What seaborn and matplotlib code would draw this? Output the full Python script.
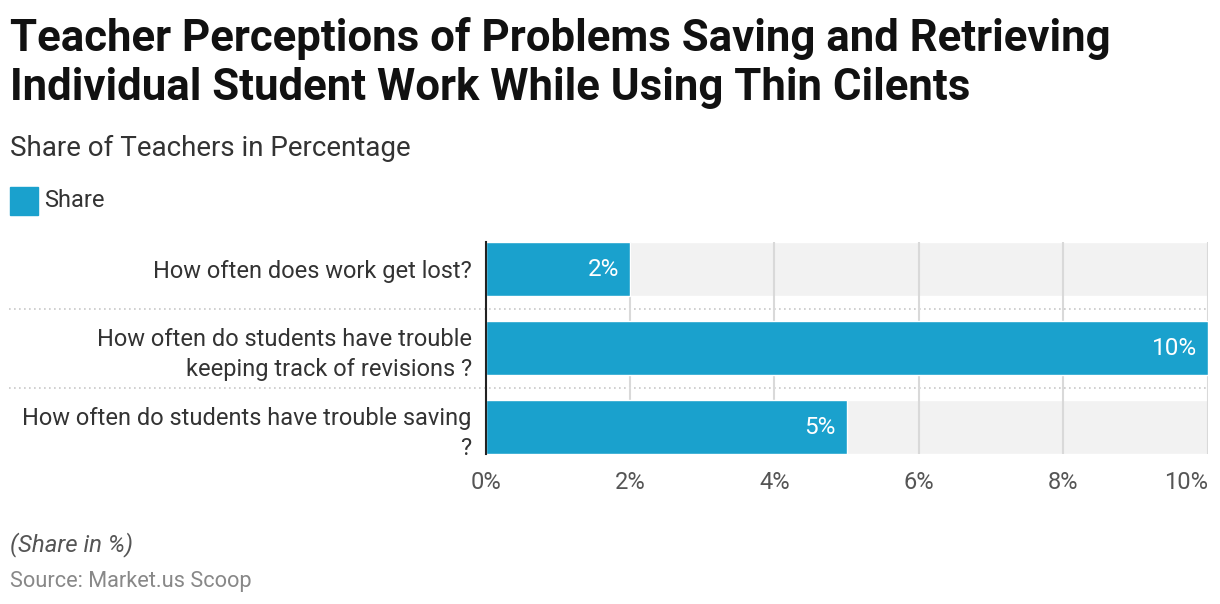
import pandas as pd
import numpy as np
import matplotlib.pyplot as plt
import seaborn as sns

categories = [
    "How often does work get lost?",
    "How often do students have trouble\nkeeping track of revisions ?",
    "How often do students have trouble saving\n?",
]
shares = [2, 10, 5]
ticks = [0, 2, 4, 6, 8, 10]

bar_color = "#1AA1CD"
track_color = "#F2F2F2"

sns.set_theme(style="white")
plt.rcParams["font.family"] = ["Roboto", "DejaVu Sans"]

df = pd.DataFrame({"question": categories, "share": shares})
df["track"] = max(ticks)

fig = plt.figure(figsize=(12.2, 6.04), dpi=100)
ax = fig.add_axes([0.398, 0.248, 0.592, 0.351])

# grey background track behind each bar
sns.barplot(data=df, y="question", x="track", color=track_color, width=0.68,
            ax=ax, zorder=1, saturation=1)
for t in ticks[1:]:
    ax.axvline(t, color="#D9D9D9", lw=1.5, zorder=2)
sns.barplot(data=df, y="question", x="share", color=bar_color, width=0.68,
            ax=ax, zorder=3, saturation=1)

for i, v in enumerate(shares):
    ax.text(v - 0.15, i, f"{v}%", ha="right", va="center", color="white",
            fontsize=17.5, zorder=4)

for y in [0.5, 1.5]:
    ax.axhline(y, xmin=-0.66, xmax=1, color="#C8C8C8", lw=1.2, ls=(0, (1, 2)),
               clip_on=False, zorder=0)

ax.set_xlim(0, 10)
ax.set_ylim(2.34, -0.34)
ax.set_xticks(ticks)
ax.set_xticklabels([f"{t}%" for t in ticks], fontsize=17, color="#555555")
ax.get_xticklabels()[-1].set_ha("right")
ax.tick_params(axis="x", length=0, pad=12)
ax.tick_params(axis="y", length=0, pad=10)
ax.set_yticklabels(categories, fontsize=17, color="#333333", linespacing=1.4)
ax.set_xlabel("")
ax.set_ylabel("")
for s in ["top", "right", "bottom"]:
    ax.spines[s].set_visible(False)
ax.spines["left"].set_color("#222222")
ax.spines["left"].set_linewidth(1.5)
ax.spines["left"].set_zorder(5)

fig.text(0.008, 0.972, "Teacher Perceptions of Problems Saving and Retrieving\n"
         "Individual Student Work While Using Thin Cilents",
         fontsize=31.5, fontweight="bold", color="#111111", va="top",
         linespacing=1.2)
fig.text(0.008, 0.755, "Share of Teachers in Percentage", fontsize=20,
         color="#333333", va="center")
fig.patches.append(plt.Rectangle((0.008, 0.644), 0.0228, 0.046,
                                 transform=fig.transFigure, color=bar_color))
fig.text(0.036, 0.668, "Share", fontsize=17, color="#333333", va="center")
fig.text(0.008, 0.099, "(Share in %)", fontsize=17.3, color="#555555",
         style="italic", va="center")
fig.text(0.008, 0.038, "Source: Market.us Scoop", fontsize=15.7, color="#888888",
         va="center")

fig.savefig("out.png", dpi=100)
